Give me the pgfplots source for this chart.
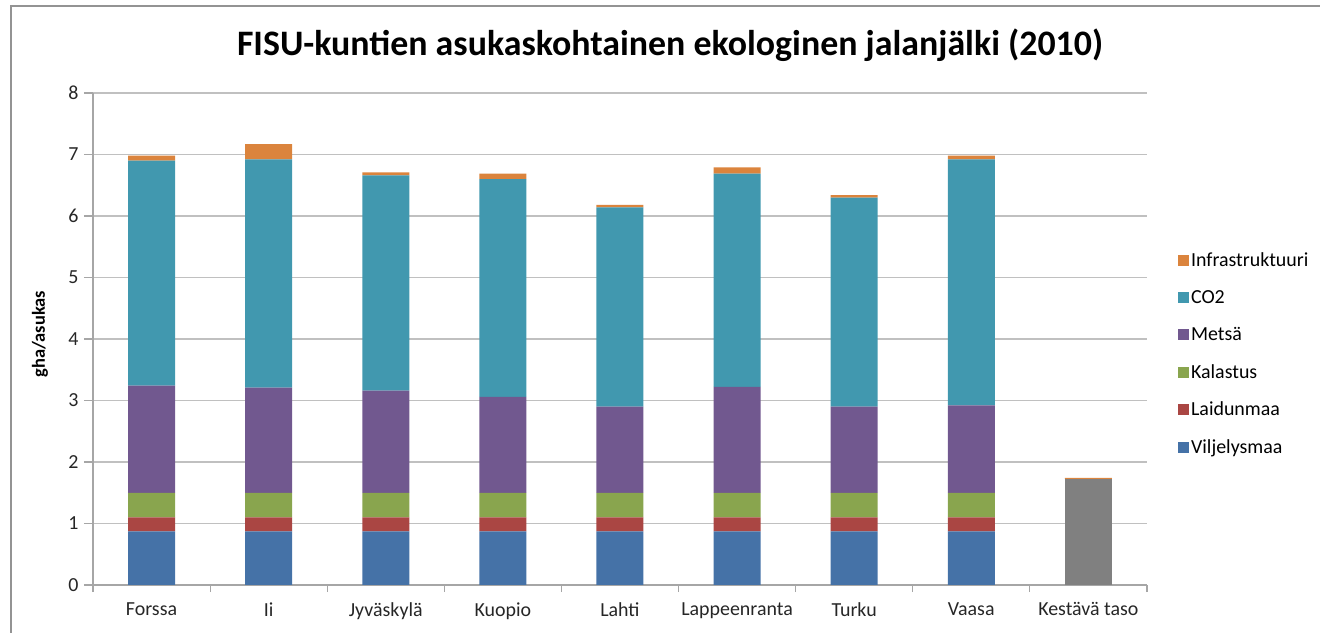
\documentclass[border=0pt]{standalone}
\usepackage{fontspec}
\setmainfont{Carlito}
\usepackage{pgfplots}
\usepackage{pgfplotstable}
\pgfplotsset{compat=1.18}
\definecolor{cVil}{HTML}{4572A7}
\definecolor{cLai}{HTML}{AA4643}
\definecolor{cKal}{HTML}{89A54E}
\definecolor{cMet}{HTML}{71588F}
\definecolor{cCO}{HTML}{4198AF}
\definecolor{cInf}{HTML}{DB843D}
\definecolor{cGray}{HTML}{808080}
\definecolor{gridc}{HTML}{C0C0C0}
\definecolor{axc}{HTML}{A6A6A6}
\pgfplotstableread{
x vil lai kal met co2 gray inf
1 0.87 0.23 0.40 1.74 3.66 0 0.08
2 0.87 0.23 0.40 1.71 3.71 0 0.25
3 0.87 0.23 0.40 1.66 3.50 0 0.05
4 0.87 0.23 0.40 1.56 3.54 0 0.09
5 0.87 0.23 0.40 1.40 3.24 0 0.04
6 0.87 0.23 0.40 1.72 3.47 0 0.10
7 0.87 0.23 0.40 1.40 3.40 0 0.04
8 0.87 0.23 0.40 1.42 4.00 0 0.06
9 0 0 0 0 0 1.72 0.02
}\datatable
\begin{document}
\begin{tikzpicture}
\path[use as bounding box] (0bp,0bp) rectangle (1320bp,633bp);
\draw[color=gray!85, line width=1.5bp] (11bp,0bp) -- (11bp,627bp) -- (1320bp,627bp);
\node[font=\bfseries\fontsize{36}{42}\selectfont, anchor=center] at (670bp,588bp) {FISU-kuntien asukaskohtainen ekologinen jalanjälki (2010)};
\begin{axis}[
  at={(93bp,48bp)}, anchor=south west,
  scale only axis, width=1054bp, height=492bp,
  ybar stacked, bar width=47bp,
  xmin=0.5, xmax=9.5, ymin=0, ymax=8,
  axis x line*=bottom, axis y line*=left,
  axis line style={color=axc, line width=1.2bp},
  xtick={1,...,9},
  xticklabels={Forssa,Ii,Jyväskylä,Kuopio,Lahti,Lappeenranta,Turku,Vaasa,Kestävä taso},
  minor xtick={0.5,1.5,...,9.5},
  major x tick style={draw=none},
  minor x tick style={color=axc, line width=1.2bp},
  minor tick length=7bp,
  ytick={0,...,8},
  major tick length=9bp,
  y tick style={color=axc, line width=1.2bp},
  tick align=outside,
  ymajorgrids,
  grid style={color=gridc, line width=1.3bp},
  /pgf/number format/assume math mode=true,
  tick label style={font=\fontsize{20}{24}\selectfont, color=black!85},
  xticklabel style={yshift=-5bp},
  yticklabel style={xshift=-2bp},
  ylabel={gha/asukas},
  ylabel style={font=\bfseries\fontsize{18.5}{22}\selectfont, at={(axis description cs:-0.0503,0.51)}, anchor=center},
  legend style={draw=none, fill=none, at={(1.0294,0.4695)}, anchor=west,
    font=\fontsize{20}{24}\selectfont, row sep=18.3bp, inner sep=0pt},
  legend cell align=left,
  reverse legend,
  legend image code/.code={\fill[#1] (0bp,-5.5bp) rectangle (11bp,5.5bp);},
  every axis plot/.append style={draw=none},
]
\addplot[fill=cVil] table[x=x,y=vil] {\datatable};
\addlegendentry{Viljelysmaa}
\addplot[fill=cLai] table[x=x,y=lai] {\datatable};
\addlegendentry{Laidunmaa}
\addplot[fill=cKal] table[x=x,y=kal] {\datatable};
\addlegendentry{Kalastus}
\addplot[fill=cMet] table[x=x,y=met] {\datatable};
\addlegendentry{Metsä}
\addplot[fill=cCO] table[x=x,y=co2] {\datatable};
\addlegendentry{CO2}
\addplot[fill=cGray, forget plot] table[x=x,y=gray] {\datatable};
\addplot[fill=cInf] table[x=x,y=inf] {\datatable};
\addlegendentry{Infrastruktuuri}
\end{axis}
\end{tikzpicture}
\end{document}
